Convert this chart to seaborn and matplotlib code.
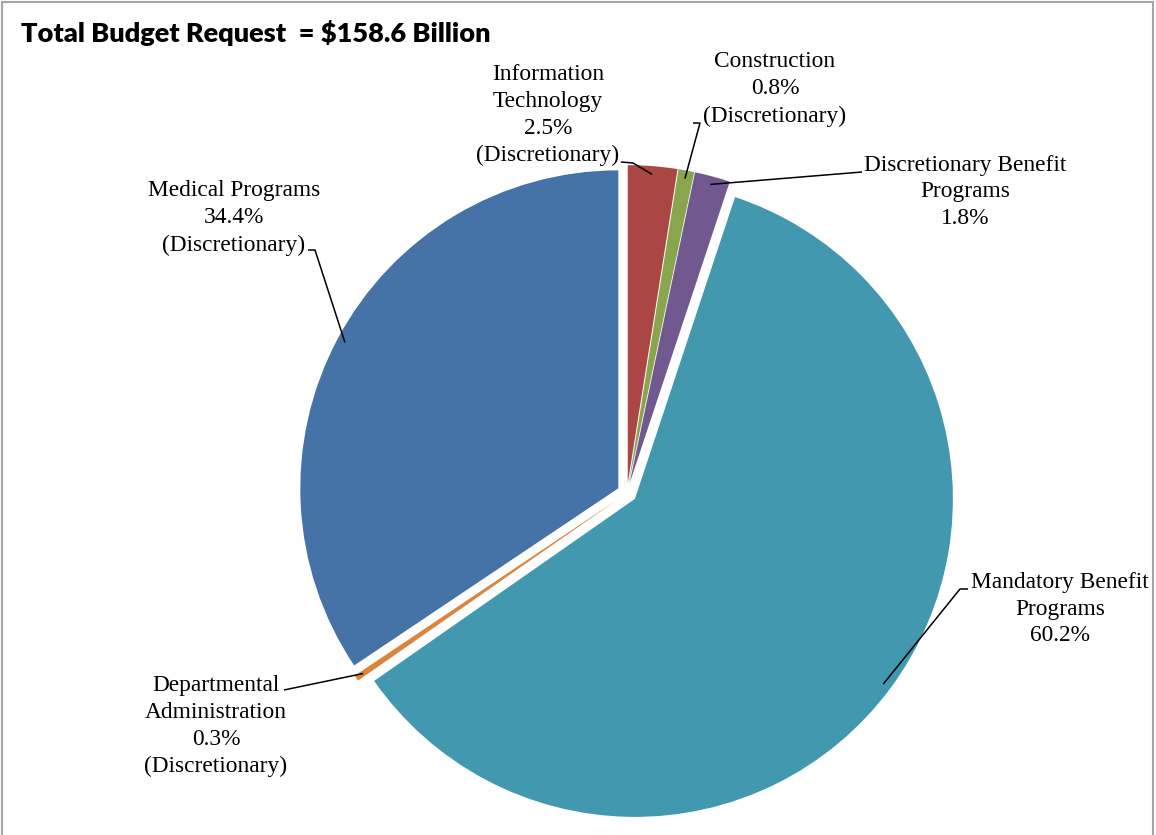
import numpy as np
import seaborn as sns
import matplotlib.pyplot as plt
from matplotlib.patches import Rectangle

# slice data, clockwise from 12 o'clock
names = [
    "Information\nTechnology\n2.5%\n(Discretionary)",
    "Construction\n0.8%\n(Discretionary)",
    "Discretionary Benefit\nPrograms\n1.8%",
    "Mandatory Benefit\nPrograms\n60.2%",
    "Departmental\nAdministration\n0.3%\n(Discretionary)",
    "Medical Programs\n34.4%\n(Discretionary)",
]
shares = [2.5, 0.8, 1.8, 60.2, 0.3, 34.4]
colors = ["#AA4643", "#89A54E", "#71588F", "#4198AF", "#DB843D", "#4572A7"]

sns.set_style("white")

W, H = 1156, 835
CX, CY, R = 627, 493, 318


def px(x, y):
    return (x - CX) / R, (CY - y) / R


# label placement (pixel centres) and leader-line elbows
label_xy = [(548, 115), (775, 89), (965, 192), (1060, 609), (216, 726), (234, 218)]
elbows = [
    [(621, 162), (633, 163)],
    [(693, 123), (700, 123)],
    [(862, 172)],
    [(968, 589), (960, 589)],
    [(284, 690)],
    [(308, 250), (315, 250)],
]

fig = plt.figure(figsize=(W / 100, H / 100), dpi=100)
ax = fig.add_axes([0, 0, 1, 1])

explode = [0.031] * len(shares)
wedges, _ = ax.pie(
    shares,
    colors=sns.color_palette(colors),
    startangle=90,
    counterclock=False,
    explode=explode,
    radius=1,
    wedgeprops=dict(linewidth=0),
)

x0, y0 = px(0, H)
x1, y1 = px(W, 0)
ax.set_xlim(x0, x1)
ax.set_ylim(y0, y1)
ax.axis("off")

for w, lab, (lx, ly), pts, ex in zip(wedges, names, label_xy, elbows, explode):
    mid = np.deg2rad((w.theta1 + w.theta2) / 2)
    rx = (1 + ex) * 0.975 * np.cos(mid)
    ry = (1 + ex) * 0.975 * np.sin(mid)
    tx, ty = px(lx, ly)
    ax.text(tx, ty, lab, ha="center", va="center", fontsize=16.8,
            family="Liberation Serif", linespacing=1.37, color="black")
    xs = [px(*p)[0] for p in pts] + [rx]
    ys = [px(*p)[1] for p in pts] + [ry]
    ax.plot(xs, ys, color="black", lw=1.1, solid_capstyle="butt")

fig.text(21 / W, 1 - 33 / H, "Total Budget Request  = $158.6 Billion",
         ha="left", va="center", fontsize=19.5, fontweight="heavy",
         family="Lato", color="black")

fig.patches.append(Rectangle((2 / W, -0.01), (1151) / W, 1 - 2 / H + 0.01,
                             transform=fig.transFigure, fill=False,
                             edgecolor="#A6A6A6", lw=1.5))

fig.savefig("out.png", dpi=100)
